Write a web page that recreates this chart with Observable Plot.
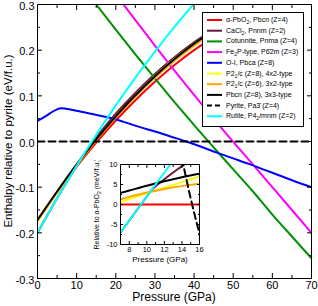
<!DOCTYPE html>
<html><head><meta charset="utf-8">
<script src="https://cdn.jsdelivr.net/npm/d3@7"></script>
<script src="https://cdn.jsdelivr.net/npm/@observablehq/plot@0.6"></script>
<style>
body{margin:0;background:#fff;font-family:"Liberation Sans",Arial,sans-serif}
#wrap{position:relative;width:318px;height:306px}
#wrap svg{display:block}
.inset{position:absolute;left:88px;top:160px}
</style></head><body><div id="wrap"></div>
<script>
// ---------- main chart data (enthalpy relative to pyrite, eV/f.u.) ----------
const bundleP   = [0,5,10,15,20,25,30,35,40,45];
const alphaPbO2 = [-0.172,-0.1115,-0.055,-0.0025,0.046,0.0905,0.131,0.1675,0.200,0.2285];
const pbcn3x3   = [-0.172,-0.1094,-0.0503,0.0048,0.0552,0.1013,0.143,0.1805,0.214,0.243];
const p21c3x2   = [-0.1735,-0.1114,-0.052,0.0024,0.0523,0.098,0.1395,0.1768,0.210,0.239];
const p21c4x2   = [-0.1763,-0.1123,-0.0522,0.0038,0.055,0.1015,0.1435,0.181,0.214,0.243];
const rutile    = [-0.200,-0.1245,-0.053,0.0145,0.079,0.140,0.197,0.251,0.302,0.350];
const cacl2P    = [0,5,10,10.5,12,14,16,20,25,30,35,40,45];
const cacl2     = [-0.200,-0.1245,-0.053,-0.046,-0.0272,-0.0031,0.0195,0.061,0.1065,0.148,0.1845,0.217,0.2455];
const cotunP    = [14,15,20,25,30,35,40,45,50,55,60,65,70];
const cotunnite = [0.311,0.300,0.245,0.191,0.138,0.086,0.036,-0.013,-0.061,-0.109,-0.160,-0.208,-0.256];
const fe2pP     = [21,25,30,35,40,45,50,55,60,65,70];
const fe2p      = [0.311,0.266,0.210,0.155,0.102,0.050,-0.001,-0.050,-0.100,-0.150,-0.200];
const oiP       = [0,2,4,6,9,14,18,22,26,30,34,38,42,46,50,54,58,62,66,70];
const oi        = [0.045,0.055,0.066,0.073,0.069,0.060,0.053,0.043,0.032,0.022,0.011,0.000,-0.012,-0.025,-0.037,-0.049,-0.062,-0.075,-0.088,-0.100];
const pyriteP   = [0,70];
const pyrite    = [0,0];

// ---------- inset data (relative to alpha-PbO2, meV/f.u.) ----------
const insP        = [7,8,10,12,14,16];
const insAlpha    = [0,0,0,0,0,0];
const insPbcn     = [2.9,3.5,4.7,5.8,6.8,7.7];
const insP21c3x2  = [1.3,1.9,3.0,3.9,4.6,5.2];
const insP21c4x2  = [0.6,1.3,2.8,4.2,5.6,7.0];
const insRutileP  = [7,8,10,12,13];
const insRutile   = [-7.0,-4.0,2.0,8.0,11.0];
const insCaCl2P   = [7,8,10,10.5,12,14,15];
const insCaCl2    = [-7.0,-4.0,2.0,3.5,6.3,9.6,11.2];
const insPyriteP  = [14,15,16];
const insPyrite   = [11.5,1.5,-7.3];

// ---------- ticks & labels ----------
const xTicks = [0,10,20,30,40,50,60,70];
const xMinor = [5,15,25,35,45,55,65];
const yTicks = [-0.3,-0.2,-0.1,0,0.1,0.2,0.3];
const yMinor = [-0.25,-0.15,-0.05,0.05,0.15,0.25];
const insXTicks = [8,10,12,14,16];
const insXMinor = [7,9,11,13,15];
const insYTicks = [-10,-5,0,5,10];
const insYMinor = [-7.5,-2.5,2.5,7.5];

const legendLabels = ["α-PbO_2, Pbcn (Z=4)","CaCl_2, Pnnm (Z=2)","Cotunnite, Pnma (Z=4)","Fe_2P-type, P6\u03042m (Z=3)","O-I, Pbca (Z=8)","P2_1/c (Z=8), 4x2-type","P2_1/c (Z=6), 3x2-type","Pbcn (Z=8), 3x3-type","Pyrite, Pa3\u0304 (Z=4)","Rutile, P4_2/mnm (Z=2)"];
const colors = ["#ff0000","#66183f","#009000","#ff00ff","#0000ff","#ffff00","#ffa500","#000000","#000000","#00ffff"];

const zip = (xs, ys) => xs.map((x, i) => ({x, y: ys[i]}));
const mainSeries = [
  [zip(bundleP, alphaPbO2), 0],
  [zip(cacl2P, cacl2), 1],
  [zip(cotunP, cotunnite), 2],
  [zip(fe2pP, fe2p), 3],
  [zip(oiP, oi), 4],
  [zip(bundleP, p21c4x2), 5],
  [zip(bundleP, p21c3x2), 6],
  [zip(bundleP, pbcn3x3), 7],
  [zip(pyriteP, pyrite), 8],
  [zip(bundleP, rutile), 9]
];
const insetSeries = [
  [zip(insP, insAlpha), 0],
  [zip(insCaCl2P, insCaCl2), 1],
  [zip(insP, insP21c4x2), 5],
  [zip(insP, insP21c3x2), 6],
  [zip(insP, insPbcn), 7],
  [zip(insPyriteP, insPyrite), 8],
  [zip(insRutileP, insRutile), 9]
];
function lineMarks(series, sw) {
  return series.map(([d, i]) => Plot.line(d, {x: "x", y: "y", stroke: colors[i], strokeWidth: sw,
    strokeDasharray: i === 8 ? "7,4" : null, clip: true, curve: "monotone-x"}));
}
function tickMarks(xt, xm, yt, ym, big, small) {
  const m = [];
  for (const a of ["bottom","top"]) {
    m.push(Plot.axisX(xt, {anchor: a, tickSize: -big, fill: "none", label: null}));
    m.push(Plot.axisX(xm, {anchor: a, tickSize: -small, fill: "none", label: null}));
  }
  for (const a of ["left","right"]) {
    m.push(Plot.axisY(yt, {anchor: a, tickSize: -big, fill: "none", label: null}));
    m.push(Plot.axisY(ym, {anchor: a, tickSize: -small, fill: "none", label: null}));
  }
  return m;
}

const main = Plot.plot({
  width: 318, height: 306,
  marginLeft: 37, marginRight: 7, marginTop: 4, marginBottom: 28,
  x: {domain: [0, 70]}, y: {domain: [-0.3, 0.3]},
  style: {fontFamily: "Liberation Sans, Arial, sans-serif", fontSize: "11px", color: "#000", background: "#fff"},
  marks: [
    ...lineMarks(mainSeries, 2),
    Plot.frame({stroke: "#000"}),
    ...tickMarks(xTicks, xMinor, yTicks, yMinor, 5, 3),
    Plot.axisX(xTicks, {anchor: "bottom", tickSize: 0, tickPadding: 3, tickFormat: d => String(d), label: null}),
    Plot.axisY(yTicks, {anchor: "left", tickSize: 0, tickPadding: 3, dy: 1.5, tickFormat: d => d.toFixed(1), label: null})
  ]
});

const inset = Plot.plot({
  width: 120, height: 105,
  marginLeft: 32, marginRight: 9, marginTop: 4, marginBottom: 21,
  x: {domain: [7, 16]}, y: {domain: [-10, 10]},
  style: {fontFamily: "Liberation Sans, Arial, sans-serif", fontSize: "7.5px", color: "#000", background: "transparent"},
  marks: [
    ...lineMarks(insetSeries, 2),
    Plot.frame({stroke: "#000"}),
    ...tickMarks(insXTicks, insXMinor, insYTicks, insYMinor, 3, 2),
    Plot.axisX(insXTicks, {anchor: "bottom", tickSize: 0, tickPadding: 2, tickFormat: d => String(d), label: null}),
    Plot.axisY(insYTicks, {anchor: "left", tickSize: 0, tickPadding: 3, tickFormat: d => String(d), label: null})
  ]
});
inset.classList.add("inset");

const wrap = document.getElementById("wrap");
wrap.appendChild(main);
wrap.appendChild(inset);

function richText(sel, str) {
  str.split(/(_.)/).forEach(p => {
    if (!p) return;
    if (p[0] === "_") sel.append("tspan").attr("baseline-shift", "sub").attr("font-size", "72%").text(p.slice(1));
    else sel.append("tspan").text(p);
  });
}

const ms = d3.select(main);
ms.append("text").attr("transform", "translate(9,141) rotate(-90)").attr("text-anchor", "middle")
  .attr("dominant-baseline", "middle").attr("font-size", "11.5px").text("Enthalpy relative to pyrite (eV/f.u.)");
ms.append("text").attr("x", 174).attr("y", 298).attr("text-anchor", "middle")
  .attr("dominant-baseline", "middle").attr("font-size", "12px").text("Pressure (GPa)");

// legend
const lg = ms.append("g").attr("font-size", "7px").attr("text-anchor", "start");
lg.append("rect").attr("x", 202.5).attr("y", 12.5).attr("width", 101).attr("height", 114)
  .attr("fill", "#fff").attr("stroke", "#000");
legendLabels.forEach((lab, i) => {
  const y = 20 + i * 10.7;
  lg.append("line").attr("x1", 207).attr("x2", 222).attr("y1", y).attr("y2", y)
    .attr("stroke", colors[i]).attr("stroke-width", 2).attr("stroke-dasharray", i === 8 ? "5,3" : null);
  const t = lg.append("text").attr("x", 226).attr("y", y).attr("text-anchor", "start").attr("dominant-baseline", "middle");
  richText(t, lab);
});

// inset titles
const is = d3.select(inset);
const yl = is.append("text").attr("transform", "translate(9,44) rotate(-90)").attr("text-anchor", "middle")
  .attr("dominant-baseline", "middle").attr("font-size", "7px");
richText(yl, "Relative to α-PbO_2 (meV/f.u.)");
is.append("text").attr("x", 72).attr("y", 100).attr("text-anchor", "middle")
  .attr("dominant-baseline", "middle").attr("font-size", "8px").text("Pressure (GPa)");
</script></body></html>
